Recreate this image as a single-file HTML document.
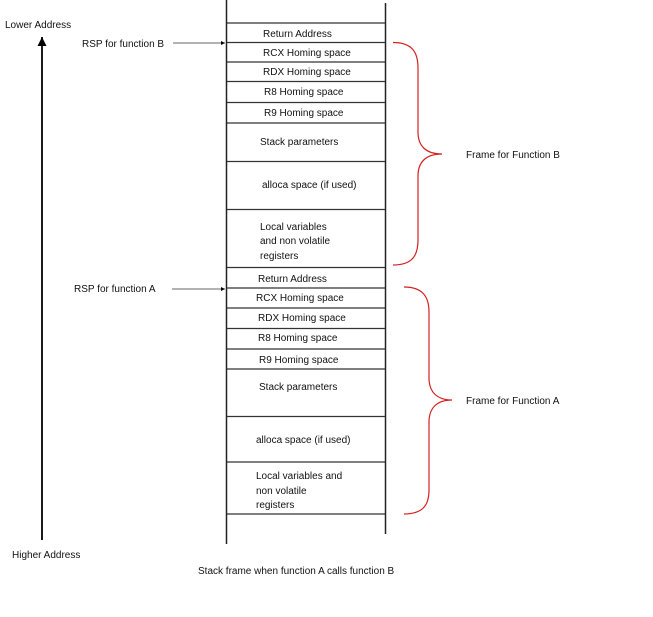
<!DOCTYPE html>
<html><head><style>html,body{margin:0;padding:0;background:#fff}svg{display:block}text{font-family:"Liberation Sans",sans-serif;font-size:10px;fill:#111}</style></head>
<body>
<svg width="653" height="617" viewBox="0 0 653 617">
<defs><marker id="a" markerWidth="6" markerHeight="6" refX="5" refY="3" orient="auto"><path d="M0,0.5 L5,3 L0,5.5z" fill="#000"/></marker></defs>
<g stroke="#222" stroke-width="1.5">
<line x1="226.5" y1="0" x2="226.5" y2="544"/>
<line x1="385.5" y1="3" x2="385.5" y2="534"/>
</g>
<g stroke="#333" stroke-width="1.3">
<line x1="227" y1="23" x2="385" y2="23"/>
<line x1="227" y1="42.5" x2="385" y2="42.5"/>
<line x1="227" y1="62" x2="385" y2="62"/>
<line x1="227" y1="81.5" x2="385" y2="81.5"/>
<line x1="227" y1="102.5" x2="385" y2="102.5"/>
<line x1="227" y1="123" x2="385" y2="123"/>
<line x1="227" y1="161.5" x2="385" y2="161.5"/>
<line x1="227" y1="209.5" x2="385" y2="209.5"/>
<line x1="227" y1="267.5" x2="385" y2="267.5"/>
<line x1="227" y1="288" x2="385" y2="288"/>
<line x1="227" y1="308" x2="385" y2="308"/>
<line x1="227" y1="328.5" x2="385" y2="328.5"/>
<line x1="227" y1="349" x2="385" y2="349"/>
<line x1="227" y1="369" x2="385" y2="369"/>
<line x1="227" y1="416.5" x2="385" y2="416.5"/>
<line x1="227" y1="462" x2="385" y2="462"/>
<line x1="227" y1="514" x2="385" y2="514"/>
</g>
<line x1="42" y1="540" x2="42" y2="37" stroke="#000" stroke-width="1.8" marker-end="url(#a)"/>
<line x1="173" y1="43" x2="225" y2="43" stroke="#333" stroke-width="0.8" marker-end="url(#a)"/>
<line x1="172" y1="289" x2="225" y2="289" stroke="#333" stroke-width="0.8" marker-end="url(#a)"/>
<g fill="none" stroke="#d62020" stroke-width="1.2">
<path d="M393,42.5 C412,42.5 418,52 418,68 L418,132 C418,146 426,154 442,154 C426,154 418,162 418,176 L418,240 C418,256 412,265 393,265"/>
<path d="M404,287 C422,287 429,296 429,312 L429,378 C429,392 437,400 452,400 C437,400 429,408 429,422 L429,490 C429,506 422,514 404,514"/>
</g>
<text x="5" y="28">Lower Address</text>
<text x="82" y="47">RSP for function B</text>
<text x="74" y="292">RSP for function A</text>
<text x="12" y="558">Higher Address</text>
<text x="198" y="574">Stack frame when function A calls function B</text>
<text x="466" y="158">Frame for Function B</text>
<text x="466" y="404">Frame for Function A</text>
<text x="263" y="37">Return Address</text>
<text x="263" y="56">RCX Homing space</text>
<text x="263" y="75">RDX Homing space</text>
<text x="264" y="95">R8 Homing space</text>
<text x="264" y="116">R9 Homing space</text>
<text x="260" y="145">Stack parameters</text>
<text x="262" y="188">alloca space (if used)</text>
<text x="260" y="230">Local variables</text>
<text x="260" y="244">and non volatile</text>
<text x="260" y="259">registers</text>
<text x="258" y="282">Return Address</text>
<text x="256" y="301">RCX Homing space</text>
<text x="258" y="321">RDX Homing space</text>
<text x="258" y="341">R8 Homing space</text>
<text x="259" y="363">R9 Homing space</text>
<text x="259" y="390">Stack parameters</text>
<text x="256" y="443">alloca space (if used)</text>
<text x="256" y="479">Local variables and</text>
<text x="256" y="494">non volatile</text>
<text x="256" y="508">registers</text>
</svg>
</body></html>
